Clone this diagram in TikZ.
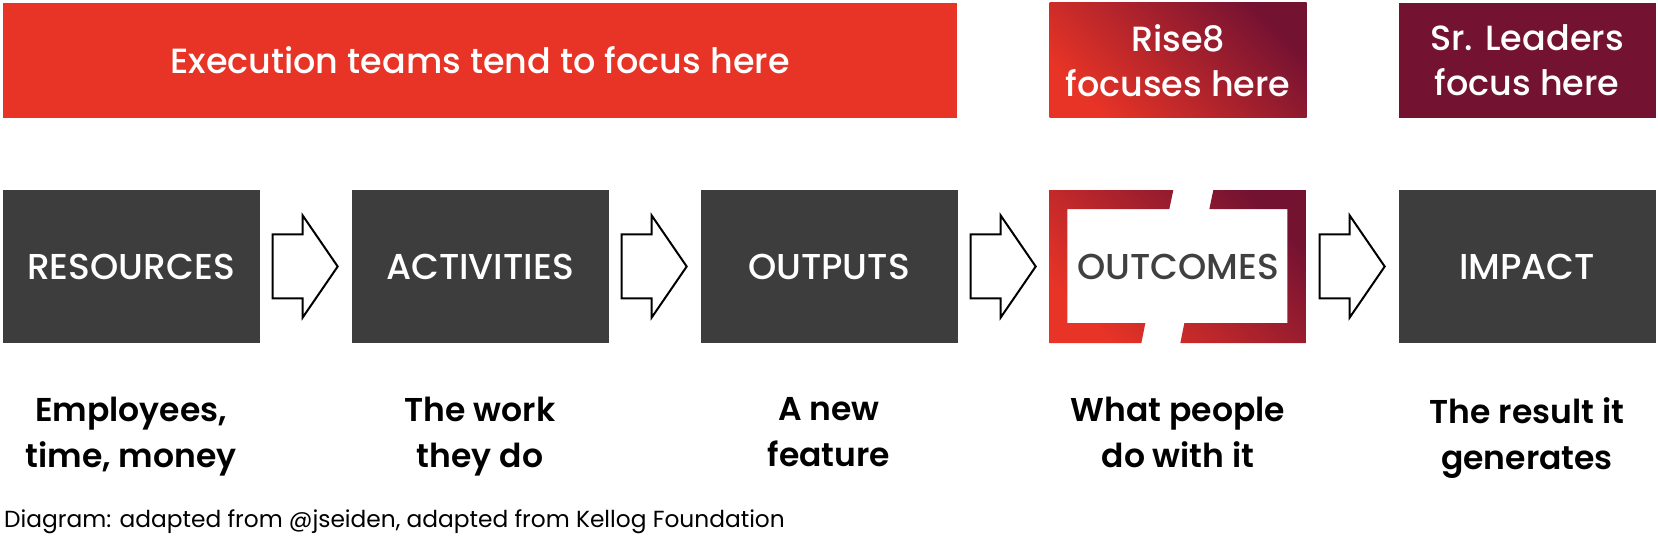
\documentclass[tikz,border=0pt]{standalone}
\usepackage{fontspec}
\setmainfont{Poppins}
\newfontfamily\pmed{Poppins Medium}
\newfontfamily\psemi{Poppins SemiBold}
\usetikzlibrary{calc}
\definecolor{rred}{HTML}{E83426}
\definecolor{maroon}{HTML}{741232}
\definecolor{boxgray}{HTML}{3D3D3D}
\definecolor{outtext}{HTML}{404040}
\begin{document}
\begin{tikzpicture}[x=1pt,y=1pt,
  banner/.style={minimum height=115pt, inner sep=0pt, text=white, align=center, font=\pmed\fontsize{35}{45}\selectfont},
  stage/.style={minimum width=257pt, minimum height=153pt, inner sep=0pt, font=\pmed\fontsize{36}{40}\selectfont},
  darkstage/.style={stage, fill=boxgray, text=white},
  caption/.style={align=center, anchor=north, inner sep=0pt, font=\psemi\fontsize{33}{46}\selectfont, text=black},
  flowarrow/.style={draw=black, line width=2pt, fill=white, line join=miter},
]
\useasboundingbox (0,0) rectangle (1658,536);
% banners
\node[banner, fill=rred, minimum width=954pt] (exec) at (480,475.5) {Execution teams tend to focus here};
\node[banner, bottom color=rred, top color=maroon, shading angle=-45, minimum width=257pt] (rise) at (1178,475.5) {Rise8\\focuses here};
\node[banner, fill=maroon, minimum width=257pt] (lead) at (1527,475.5) {Sr. Leaders\\focus here};
% stages
\node[darkstage] (b1) at (131,269.5) {RESOURCES};
\node[darkstage] (b2) at (480,269.5) {ACTIVITIES};
\node[darkstage] (b3) at (829,269.5) {OUTPUTS};
\node[stage, text=outtext] (b4) at (1178,269.5) {OUTCOMES};
\node[darkstage] (b5) at (1527,269.5) {IMPACT};
% outcomes frame
\begin{scope}
\clip[shift={(b4.south west)}] (0,153) -- (124,153) -- (120,134) -- (18,134) -- (18,20) -- (96,20) -- (92,0) -- (0,0) -- cycle
  (164,153) -- (257,153) -- (257,0) -- (131,0) -- (135,20) -- (238,20) -- (238,134) -- (160,134) -- cycle;
\shade[bottom color=rred, top color=maroon, shading angle=-45] (b4.south west) rectangle (b4.north east);
\end{scope}
% arrows
\foreach \a in {b1,b2,b3,b4}
  \draw[flowarrow, shift={(\a.east)}] (13,32) -- (43,32) -- (43,51) -- (78,0) -- (43,-51) -- (43,-32) -- (13,-32) -- cycle;
% captions
\node[caption] (c1) at (131,139) {Employees,\\time, money};
\node[caption] (c2) at (480,139) {The work\\they do};
\node[caption] (c3) at (829,139) {A new\\feature};
\node[caption] (c4) at (1178,139) {What people\\do with it};
\node[caption] (c5) at (1527,139) {The result it\\generates};
% footnote
\node[anchor=base west, inner sep=0pt, font=\fontsize{23.3}{27}\selectfont, text=black] (note) at (4,9) {Diagram: adapted from @jseiden, adapted from Kellog Foundation};
\end{tikzpicture}
\end{document}
